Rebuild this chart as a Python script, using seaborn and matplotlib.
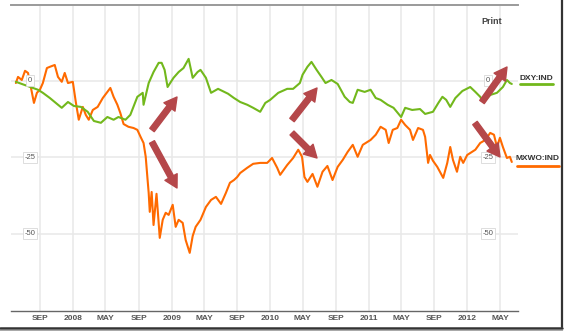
import pandas as pd
import matplotlib.pyplot as plt
import seaborn as sns
from matplotlib.lines import Line2D

# DXY:IND, % change
dxy_dates = ["2007-06-04", "2007-06-26", "2007-07-15", "2007-08-06", "2007-08-25", "2007-09-12",
             "2007-10-08", "2007-11-03", "2007-11-21", "2007-12-14", "2008-01-05", "2008-01-31",
             "2008-02-25", "2008-03-19", "2008-04-14", "2008-05-08", "2008-05-31", "2008-06-18",
             "2008-07-14", "2008-08-01", "2008-08-27", "2008-09-16", "2008-09-19", "2008-10-08",
             "2008-10-26", "2008-11-14", "2008-11-25", "2008-12-06", "2008-12-17", "2009-01-08",
             "2009-01-27", "2009-02-14", "2009-03-05", "2009-03-20", "2009-04-07", "2009-04-18",
             "2009-05-08", "2009-05-27", "2009-06-22", "2009-07-29", "2009-08-20", "2009-09-12",
             "2009-10-08", "2009-10-30", "2009-11-25", "2009-12-14", "2010-01-01", "2010-01-31",
             "2010-03-05", "2010-03-27", "2010-04-21", "2010-05-01", "2010-05-19", "2010-06-03",
             "2010-06-22", "2010-07-10", "2010-07-25", "2010-08-16", "2010-09-08", "2010-10-04",
             "2010-10-23", "2010-11-03", "2010-11-21", "2010-12-17", "2011-01-08", "2011-01-27",
             "2011-02-14", "2011-03-12", "2011-04-03", "2011-05-01", "2011-05-16", "2011-06-11",
             "2011-07-10", "2011-07-29", "2011-08-27", "2011-09-16", "2011-10-01", "2011-10-15",
             "2011-10-30", "2011-11-18", "2011-12-14", "2012-01-12", "2012-01-31", "2012-02-18",
             "2012-02-29", "2012-03-26", "2012-04-20", "2012-05-12", "2012-05-27", "2012-06-07",
             "2012-06-14"]
dxy_values = [-0.3, -1.0, -1.6, -2.3, -2.9, -3.9,
              -5.6, -7.5, -8.8, -6.9, -8.2, -8.5,
              -10.1, -13.1, -13.7, -11.8, -12.7, -11.8,
              -12.7, -11.1, -5.2, -3.9, -7.8, -0.7,
              2.9, 5.9, 5.9, 3.6, -2.0, 1.0,
              2.9, 4.2, 7.2, 1.0, 2.9, 3.6,
              1.0, -3.9, -2.6, -4.2, -5.6, -6.9,
              -7.8, -8.8, -10.1, -7.2, -6.2, -3.9,
              -2.6, -2.6, -0.7, 2.0, 4.6, 6.2,
              3.6, 1.3, -0.7, 0.3, -1.0, -5.2,
              -6.9, -7.2, -2.9, -3.6, -2.9, -5.6,
              -6.2, -7.8, -8.8, -11.8, -8.8, -9.5,
              -9.2, -10.8, -10.1, -7.2, -5.2, -6.2,
              -8.5, -5.6, -3.3, -2.0, -3.6, -5.2,
              -6.9, -4.6, -3.9, -2.0, 0.3, -0.7,
              -1.0]

# MXWO:IND
mxwo_dates = ["2007-06-04", "2007-06-12", "2007-06-26", "2007-07-08", "2007-07-19", "2007-08-02",
              "2007-08-10", "2007-08-21", "2007-09-01", "2007-09-12", "2007-09-27", "2007-10-08",
              "2007-10-26", "2007-11-07", "2007-11-21", "2007-12-02", "2007-12-14", "2008-01-01",
              "2008-01-12", "2008-01-23", "2008-02-07", "2008-02-18", "2008-02-29", "2008-03-15",
              "2008-04-02", "2008-04-21", "2008-05-08", "2008-05-19", "2008-05-31", "2008-06-14",
              "2008-06-25", "2008-07-07", "2008-07-25", "2008-08-13", "2008-08-27", "2008-09-08",
              "2008-09-19", "2008-09-27", "2008-10-04", "2008-10-08", "2008-10-12", "2008-10-19",
              "2008-10-26", "2008-11-06", "2008-11-18", "2008-11-29", "2008-12-10", "2008-12-21",
              "2009-01-05", "2009-01-16", "2009-01-27", "2009-02-11", "2009-02-22", "2009-03-09",
              "2009-03-20", "2009-03-31", "2009-04-18", "2009-05-08", "2009-05-27", "2009-06-14",
              "2009-07-03", "2009-07-21", "2009-08-05", "2009-08-20", "2009-09-01", "2009-09-12",
              "2009-10-08", "2009-10-30", "2009-11-25", "2009-12-21", "2010-01-08", "2010-01-27",
              "2010-02-07", "2010-03-05", "2010-03-27", "2010-04-15", "2010-04-29", "2010-05-08",
              "2010-05-19", "2010-06-07", "2010-06-25", "2010-07-14", "2010-08-01", "2010-08-20",
              "2010-09-08", "2010-09-27", "2010-10-15", "2010-11-03", "2010-11-21", "2010-12-10",
              "2011-01-08", "2011-01-27", "2011-02-14", "2011-03-05", "2011-03-16", "2011-03-31",
              "2011-04-17", "2011-05-01", "2011-05-16", "2011-06-03", "2011-06-14", "2011-07-03",
              "2011-07-21", "2011-07-29", "2011-08-09", "2011-08-16", "2011-08-27", "2011-09-12",
              "2011-10-04", "2011-10-19", "2011-10-30", "2011-11-09", "2011-11-24", "2011-12-06",
              "2011-12-17", "2012-01-01", "2012-01-31", "2012-02-18", "2012-03-08", "2012-03-26",
              "2012-04-09", "2012-04-20", "2012-05-01", "2012-05-12", "2012-05-27", "2012-06-07",
              "2012-06-14"]
mxwo_values = [-0.7, 1.3, 0.3, 3.3, 2.6, -3.6,
               -7.2, -3.9, -2.9, -0.7, 4.2, 4.6,
               5.2, 1.3, -0.3, 2.6, -0.7, -0.3,
               -6.9, -12.7, -8.5, -11.1, -12.7, -9.5,
               -8.5, -5.6, -3.6, -2.3, -5.2, -7.8,
               -10.5, -14.1, -15.0, -15.4, -16.0, -18.3,
               -20.3, -24.8, -32.4, -36.6, -42.8, -36.3,
               -47.1, -36.9, -51.3, -45.4, -43.1, -43.8,
               -40.5, -47.7, -45.4, -46.4, -52.0, -56.2,
               -50.7, -47.7, -45.4, -41.2, -38.9, -37.9,
               -40.2, -36.6, -33.3, -32.4, -31.4, -30.1,
               -28.4, -27.1, -26.8, -26.8, -25.2, -28.4,
               -30.7, -27.5, -25.2, -22.5, -24.8, -31.4,
               -33.0, -30.4, -34.6, -29.7, -27.8, -32.4,
               -28.1, -25.8, -23.2, -20.9, -24.8, -20.9,
               -19.3, -17.6, -15.0, -16.0, -20.3, -16.0,
               -15.4, -12.7, -14.4, -16.0, -19.3, -15.4,
               -16.0, -18.3, -26.8, -24.2, -26.1, -28.1,
               -31.7, -26.8, -21.6, -25.8, -29.7, -24.8,
               -26.8, -24.2, -22.5, -20.3, -19.3, -17.0,
               -17.6, -21.6, -18.6, -21.6, -25.2, -24.8,
               -26.5]

tick_dates = ["2007-09-01", "2008-01-01", "2008-05-01", "2008-09-01", "2009-01-01",
              "2009-05-01", "2009-09-01", "2010-01-01", "2010-05-01", "2010-09-01",
              "2011-01-01", "2011-05-01", "2011-09-01", "2012-01-01", "2012-05-01"]
tick_labels = ["SEP", "2008", "MAY", "SEP", "2009", "MAY", "SEP", "2010", "MAY", "SEP",
               "2011", "MAY", "SEP", "2012", "MAY"]
y_levels = [0, -25, -50]

green = "#72b81c"
orange = "#ff6a00"
arrow_col = "#b5474a"

sns.set_style("white")
plt.rcParams["font.family"] = ["Liberation Sans", "DejaVu Sans"]

W, H = 565, 331
fig = plt.figure(figsize=(W / 100, H / 100), dpi=100)
fig.patch.set_facecolor("white")
ax = fig.add_axes([11 / W, 20 / H, 507 / W, 306 / H])
ax.patch.set_visible(False)

dxy = pd.DataFrame({"date": pd.to_datetime(dxy_dates), "value": dxy_values})
mxwo = pd.DataFrame({"date": pd.to_datetime(mxwo_dates), "value": mxwo_values})

sns.lineplot(data=mxwo, x="date", y="value", color=orange, lw=1.5, ax=ax, zorder=3)
sns.lineplot(data=dxy, x="date", y="value", color=green, lw=1.5, ax=ax, zorder=4)

ax.set_xlim(pd.Timestamp("2007-05-17"), pd.Timestamp("2012-07-07"))
ax.set_ylim(-75.2, 24.8)
ax.set_xlabel("")
ax.set_ylabel("")

ax.set_xticks(pd.to_datetime(tick_dates))
ax.set_xticklabels(tick_labels, fontsize=6, fontweight="bold", color="#555555")
ax.tick_params(axis="x", length=0, pad=3)
ax.set_yticks([])
for d in pd.to_datetime(tick_dates):
    ax.axvline(d, color="#e8e8e8", lw=1.1, zorder=1)
for lv in y_levels:
    ax.axhline(lv, color="#e8e8e8", lw=1.1, zorder=1)

sns.despine(ax=ax, left=True, right=True, top=False, bottom=False)
ax.spines["top"].set_color("#9a9a9a")
ax.spines["top"].set_linewidth(1.4)
ax.spines["bottom"].set_color("#666666")
ax.spines["bottom"].set_linewidth(1.0)

# boxed y labels inside the plot, both sides (x in image pixels)
box = dict(boxstyle="square,pad=0.25", fc="white", ec="#d8d8d8", lw=0.6)
for lv in y_levels:
    for px in (30, 488):
        ax.text((px - 11) / 507, lv, str(lv), transform=ax.get_yaxis_transform(),
                ha="center", va="center", fontsize=5.5, color="#555555", bbox=box, zorder=5)

fig.text(492 / W, 1 - 21 / H, "Print", ha="center", va="center", fontsize=6.5,
         fontweight="bold", color="#444444")

# legend on the right
fig.text(536 / W, 1 - 78 / H, "DXY:IND", ha="center", va="center", fontsize=6,
         fontweight="bold", color="#333333")
fig.add_artist(Line2D([520 / W, 553 / W], [1 - 84 / H, 1 - 84 / H], color=green, lw=2))
fig.text(537 / W, 1 - 159 / H, "MXWO:IND", ha="center", va="center", fontsize=6,
         fontweight="bold", color="#333333")
fig.add_artist(Line2D([517 / W, 559 / W], [1 - 166 / H, 1 - 166 / H], color=orange, lw=2))

# arrows drawn on top of the chart (tail -> tip, image pixels)
arrows = [((152, 130), (177, 97)), ((152, 142), (177, 188)),
          ((292, 120), (317, 88)), ((292, 133), (317, 158)),
          ((482, 102), (507, 67)), ((475, 123), (500, 157))]
for (x0, y0), (x1, y1) in arrows:
    ax.annotate("", xy=(x1, H - y1), xytext=(x0, H - y0),
                xycoords="figure pixels", textcoords="figure pixels",
                arrowprops=dict(arrowstyle="simple,head_length=0.9,head_width=1.0,tail_width=0.4",
                                color=arrow_col, mutation_scale=10, shrinkA=0, shrinkB=0),
                zorder=6)

# screenshot frame / shadow
fig.add_artist(Line2D([562 / W, 562 / W], [4 / H, 1], color="#333333", lw=1.6))
fig.add_artist(Line2D([0, 562 / W], [3 / H, 3 / H], color="#333333", lw=1.8))
fig.add_artist(Line2D([0, 562 / W], [1.5 / H, 1.5 / H], color="#aaaaaa", lw=1.0))

fig.savefig("out.png", dpi=100)
